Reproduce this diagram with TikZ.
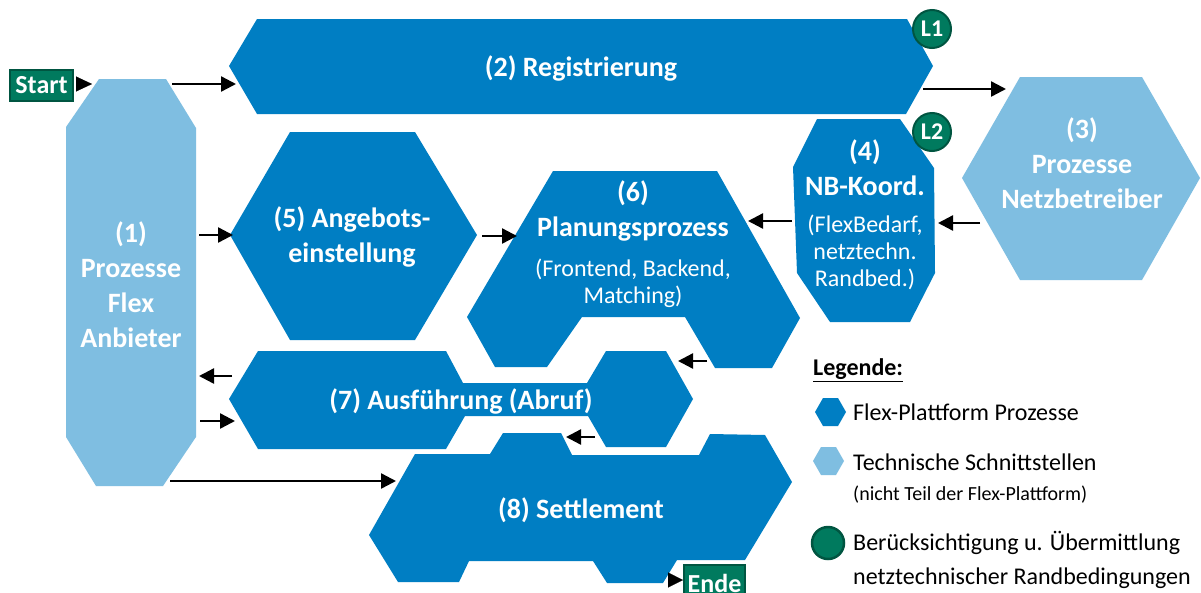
\documentclass[tikz,border=0pt]{standalone}
\usepackage{fontspec}
\setmainfont{Carlito}
\usetikzlibrary{arrows.meta}
\definecolor{pblue}{RGB}{0,126,195}
\definecolor{lblue}{RGB}{127,190,225}
\definecolor{lgreen}{RGB}{0,122,94}
\definecolor{dgreen}{RGB}{0,85,65}
\tikzset{
  proc/.style={fill=pblue},
  iface/.style={fill=lblue},
  lbl/.style={text=white, font=\bfseries\fontsize{28}{35}\selectfont, align=center, inner sep=0pt},
  sublbl/.style={text=white, font=\fontsize{24}{27}\selectfont, align=center, inner sep=0pt},
  flow/.style={line width=2.4pt, -{Triangle[length=15pt,width=15pt]}},
  lmark/.style={circle, fill=lgreen, draw=dgreen, line width=2pt, minimum size=38pt, inner sep=0pt, text=white, font=\bfseries\fontsize{24}{24}\selectfont},
  term/.style={fill=lgreen, draw=dgreen, line width=2pt, text=white, font=\bfseries\fontsize{26}{26}\selectfont, inner sep=0pt},
  legtext/.style={anchor=west, inner sep=0pt, font=\fontsize{24}{24}\selectfont},
  legsmall/.style={anchor=west, inner sep=0pt, font=\fontsize{20}{20}\selectfont},
}
\begin{document}
\begin{tikzpicture}[x=1pt,y=-1pt]
\useasboundingbox[fill=white] (0,0) rectangle (1201,592);

% shapes
\fill[iface] (99,79)--(166,79)--(196,128)--(196,437)--(163,486)--(96,486)--(66,437)--(66,127)--cycle;
\fill[proc] (229,66)--(257,19)--(907,19)--(933,66)--(906,114)--(257,114)--cycle;
\fill[iface] (962,178)--(1020,77)--(1142,77)--(1200,178)--(1142,280)--(1020,280)--cycle;
\fill[proc] (817,119)--(900,119)--(934,168)--(935,273)--(910,322)--(830,322)--(797,273)--(793,167)--cycle;
\fill[proc] (230,235)--(290,132)--(415,132)--(477,235)--(415,340)--(290,340)--cycle;
\fill[proc] (553,171)--(717,171)--(800,318)--(772,368)--(715,368)--(685,317)--(582,317)--(547,367)--(495,367)--(467,317)--cycle;
\fill[proc] (258,351)--(446,351)--(463,383)--(587,383)--(606,351)--(666,351)--(693,399)--(666,447)--(606,447)--(588,416)--(465,416)--(446,449)--(258,449)--(229,399)--cycle;
\fill[proc] (503,433)--(561,433)--(572,455)--(699,455)--(710,434)--(765,435)--(792,482)--(745,560)--(677,560)--(663,583)--(607,583)--(593,561)--(469,561)--(459,582)--(398,582)--(369,535)--(415,454)--(490,454)--cycle;

% labels
\node[lbl] (t1) at (131,285) {(1)\\Prozesse\\Flex\\Anbieter};
\node[lbl] (t2) at (581,68) {(2) Registrierung};
\node[lbl] (t3) at (1082,163) {(3)\\Prozesse\\Netzbetreiber};
\node[lbl] (t4) at (865,168) {(4)\\NB-Koord.};
\node[sublbl] (s4) at (865,252) {(FlexBedarf,\\netztechn.\\Randbed.)};
\node[lbl] (t5) at (352,237) {(5) Angebots-\\einstellung};
\node[lbl] (t6) at (633,211) {(6)\\Planungsprozess};
\node[sublbl] (s6) at (633,283) {(Frontend, Backend,\\Matching)};
\node[lbl] (t7) at (461,401) {(7) Ausführung (Abruf)};
\node[lbl] (t8) at (581,510) {(8) Settlement};

% markers
\node[lmark] (L1) at (932,29) {L1};
\node[lmark] (L2) at (932,132) {L2};

% start / end
\node[term, minimum width=63pt, minimum height=31pt] (start) at (41.5,85.5) {Start};
\begin{scope}
\clip (0,0) rectangle (1201,592);
\node[term, minimum width=61pt, minimum height=36pt] (ende) at (714.5,583) {Ende};
\end{scope}

% connector end points
\coordinate (c12a) at (172,84);   \coordinate (c12b) at (236,84);
\coordinate (c23a) at (923,89);   \coordinate (c23b) at (1006,89);
\coordinate (c34a) at (980,223);  \coordinate (c34b) at (938,223);
\coordinate (c46a) at (792,221);  \coordinate (c46b) at (748,221);
\coordinate (c15a) at (199,235);  \coordinate (c15b) at (233,235);
\coordinate (c56a) at (482,236);  \coordinate (c56b) at (517,236);
\coordinate (c71a) at (232,376);  \coordinate (c71b) at (199,376);
\coordinate (c17a) at (200,421);  \coordinate (c17b) at (235,421);
\coordinate (c67a) at (707,361);  \coordinate (c67b) at (678,361);
\coordinate (c78a) at (595,437);  \coordinate (c78b) at (566,437);
\coordinate (c18a) at (170,481);  \coordinate (c18b) at (396,481);
\coordinate (cst) at (92,84);
\coordinate (cen) at (668,580);

\draw[flow] (c12a) -- (c12b);
\draw[flow] (c23a) -- (c23b);
\draw[flow] (c34a) -- (c34b);
\draw[flow] (c46a) -- (c46b);
\draw[flow] (c15a) -- (c15b);
\draw[flow] (c56a) -- (c56b);
\draw[flow] (c71a) -- (c71b);
\draw[flow] (c17a) -- (c17b);
\draw[flow] (c67a) -- (c67b);
\draw[flow] (c78a) -- (c78b);
\draw[flow] (c18a) -- (c18b);
\draw[line width=0.1pt, -{Triangle[length=16pt,width=15pt]}] ([xshift=3pt]start.east |- cst) -- (cst);
\draw[line width=0.1pt, -{Triangle[length=15pt,width=15pt]}] (cen) -- (ende.west |- cen);

% legend
\node[anchor=west, inner sep=0pt, font=\bfseries\fontsize{24}{24}\selectfont] (leg) at (813,370) {\underline{Legende:}};
\fill[proc] (815,412)--(823,398)--(838,398)--(846,412)--(838,426)--(823,426)--cycle;
\node[legtext] (lg1) at (853,412) {Flex-Plattform Prozesse};
\fill[iface] (813,461)--(821,447)--(836,447)--(844,461)--(836,475)--(821,475)--cycle;
\node[legtext] (lg2) at (853,462) {Technische Schnittstellen};
\node[legsmall] (lg2b) at (853,495) {(nicht Teil der Flex-Plattform)};
\node[circle, fill=lgreen, draw=dgreen, line width=2.5pt, minimum size=32pt, inner sep=0pt] (lgc) at (828,543) {};
\node[legtext] (lg3) at (853,543) {Berücksichtigung u. Übermittlung};
\node[legtext] (lg4) at (853,578) {netztechnischer Randbedingungen};
\end{tikzpicture}
\end{document}
